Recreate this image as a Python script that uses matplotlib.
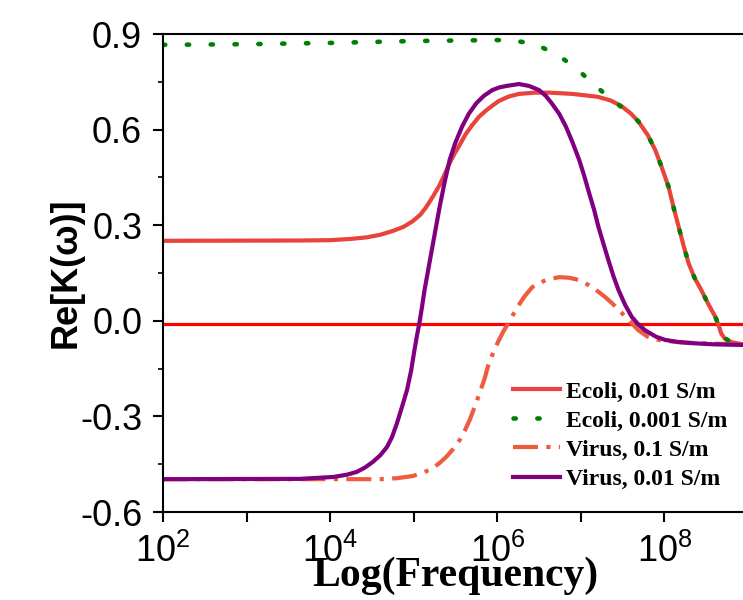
import numpy as np
import matplotlib
matplotlib.use('Agg')
import matplotlib.pyplot as plt

plt.rcParams['font.family'] = ['Liberation Sans', 'DejaVu Sans']
plt.rcParams['mathtext.fontset'] = 'custom'
plt.rcParams['mathtext.rm'] = 'Liberation Sans'

# log10(frequency) / Re[K]
ecoli1_logf = [2.0, 3.64, 4.0, 4.25, 4.44, 4.6, 4.75, 4.88, 4.99, 5.08, 5.15, 5.23, 5.31, 5.37,
               5.43, 5.49, 5.55, 5.62, 5.70, 5.78, 5.87, 5.95, 6.02, 6.14, 6.26, 6.45, 6.62,
               6.9, 7.2, 7.35, 7.48, 7.6, 7.69, 7.8, 7.89, 7.97, 8.05, 8.11, 8.17, 8.23, 8.29,
               8.36, 8.44, 8.52, 8.61, 8.65, 8.68, 8.72, 8.8, 8.92, 9.0]
ecoli1_re = [0.251, 0.252, 0.253, 0.257, 0.262, 0.27, 0.282, 0.295, 0.313, 0.333, 0.357, 0.39,
             0.426, 0.46, 0.495, 0.525, 0.552, 0.585, 0.614, 0.64, 0.661, 0.677, 0.69, 0.704,
             0.712, 0.716, 0.716, 0.712, 0.703, 0.692, 0.675, 0.65, 0.625, 0.583, 0.536, 0.48,
             0.42, 0.355, 0.295, 0.235, 0.18, 0.135, 0.097, 0.055, 0.012, -0.015, -0.04, -0.055,
             -0.067, -0.073, -0.075]

ecoli2_logf = [2.0, 3.0, 4.0, 5.0, 6.0, 6.2, 6.4, 6.52, 6.66, 6.81, 6.95, 7.1, 7.23, 7.37, 7.48,
               7.6, 7.69, 7.8, 7.89, 7.97, 8.05, 8.11, 8.17, 8.23, 8.29, 8.36, 8.44, 8.52, 8.61,
               8.65, 8.68, 8.72, 8.8, 8.92, 9.0]
ecoli2_re = [0.866, 0.868, 0.872, 0.878, 0.881, 0.879, 0.871, 0.86, 0.842, 0.818, 0.79, 0.756,
             0.725, 0.693, 0.672, 0.65, 0.625, 0.583, 0.536, 0.48, 0.42, 0.355, 0.295, 0.235,
             0.18, 0.135, 0.097, 0.055, 0.012, -0.015, -0.04, -0.055, -0.067, -0.073, -0.075]

virus1_logf = [2.0, 4.6, 4.8, 4.99, 5.12, 5.23, 5.31, 5.39, 5.47, 5.55, 5.61, 5.67, 5.73, 5.79,
               5.85, 5.9, 5.96, 6.02, 6.08, 6.14, 6.24, 6.33, 6.42, 6.58, 6.74, 6.86, 6.98,
               7.08, 7.18, 7.28, 7.37, 7.47, 7.57, 7.69, 7.8, 7.93, 8.2, 8.4, 9.0]
virus1_re = [-0.497, -0.497, -0.494, -0.487, -0.476, -0.462, -0.446, -0.427, -0.403, -0.374,
             -0.345, -0.311, -0.27, -0.226, -0.18, -0.132, -0.095, -0.06, -0.03, -0.004, 0.043,
             0.078, 0.106, 0.128, 0.137, 0.135, 0.128, 0.114, 0.097, 0.077, 0.056, 0.03, 0.003,
             -0.03, -0.05, -0.06, -0.068, -0.07, -0.075]

virus2_logf = [2.0, 3.64, 4.04, 4.2, 4.32, 4.42, 4.51, 4.6, 4.68, 4.74, 4.8, 4.86, 4.92, 4.97,
               5.01, 5.04, 5.07, 5.1, 5.13, 5.17, 5.21, 5.26, 5.31, 5.37, 5.43, 5.5, 5.58, 5.66,
               5.75, 5.84, 5.94, 6.02, 6.11, 6.26, 6.38, 6.5, 6.58, 6.65, 6.74, 6.82, 6.9, 6.98,
               7.04, 7.1, 7.16, 7.21, 7.27, 7.33, 7.39, 7.45, 7.53, 7.61, 7.69, 7.77, 7.9, 8.01,
               8.15, 8.32, 8.6, 9.0]
virus2_re = [-0.497, -0.496, -0.49, -0.483, -0.474, -0.46, -0.443, -0.422, -0.396, -0.365,
             -0.321, -0.27, -0.217, -0.155, -0.09, -0.045, -0.004, 0.045, 0.097, 0.155, 0.213,
             0.285, 0.357, 0.435, 0.505, 0.56, 0.61, 0.65, 0.683, 0.706, 0.724, 0.732, 0.737,
             0.743, 0.737, 0.724, 0.706, 0.683, 0.65, 0.61, 0.56, 0.505, 0.455, 0.40, 0.347,
             0.295, 0.242, 0.19, 0.14, 0.097, 0.05, 0.012, -0.012, -0.03, -0.05, -0.06, -0.066,
             -0.07, -0.074, -0.076]

zero_level = -0.01

x_tick_exp = [2, 3, 4, 5, 6, 7, 8, 9]
x_tick_labels = ['$\\mathregular{10^{2}}$', '', '$\\mathregular{10^{4}}$', '',
                 '$\\mathregular{10^{6}}$', '', '$\\mathregular{10^{8}}$', '']
y_ticks = [-0.6, -0.3, 0.0, 0.3, 0.6, 0.9]

fig = plt.figure(figsize=(7.43, 6.0), dpi=100)
ax = fig.add_axes([163 / 743, 88 / 600, 585 / 743, 478 / 600])

ax.axhline(zero_level, color='#ff0000', lw=2.3, zorder=1)
ax.plot(10 ** np.array(ecoli1_logf), ecoli1_re, color='#e8433c', lw=3,
        solid_joinstyle='round', label='Ecoli, 0.01 S/m')
ax.plot(10 ** np.array(ecoli2_logf), ecoli2_re, color='#008000', lw=3.3,
        ls=(0, (0.5, 4.7)), dash_capstyle='round', label='Ecoli, 0.001 S/m')
ax.plot(10 ** np.array(virus1_logf), virus1_re, color='#ee5b3e', lw=3,
        ls=(0, (6, 2, 1, 2)), label='Virus, 0.1 S/m')
ax.plot(10 ** np.array(virus2_logf), virus2_re, color='#800080', lw=3,
        solid_joinstyle='round', label='Virus, 0.01 S/m')

ax.set_xscale('log')
ax.set_xlim(1e2, 1e9)
ax.set_ylim(-0.6, 0.9)
ax.set_xticks([10.0 ** e for e in x_tick_exp])
ax.set_xticklabels(x_tick_labels)
ax.xaxis.set_minor_locator(matplotlib.ticker.LogLocator(base=10, subs=np.arange(2, 10)))
ax.xaxis.set_minor_formatter(matplotlib.ticker.NullFormatter())
ax.set_yticks(y_ticks)
ax.set_yticklabels(['%.1f' % v for v in y_ticks])
ax.yaxis.set_minor_locator(matplotlib.ticker.MultipleLocator(0.15))

ax.tick_params(which='major', direction='out', length=7, width=1.5, labelsize=26, pad=8)
ax.tick_params(which='minor', direction='out', length=3.5, width=1.2)
ax.tick_params(axis='x', pad=9)
for s in ax.spines.values():
    s.set_linewidth(1.5)

ax.set_ylabel('Re[K(ω)]', fontsize=26, fontweight='bold', labelpad=-3)
ax.set_xlabel('Log(Frequency)', fontsize=30, fontweight='bold',
              family='Liberation Serif', labelpad=-10)

ax.legend(loc='upper left', bbox_to_anchor=(513 / 743, 1 - 381 / 600), bbox_transform=fig.transFigure,
          frameon=False, prop={'family': 'Liberation Serif', 'weight': 'bold', 'size': 17},
          handlelength=2.0, handletextpad=0.25, labelspacing=0.32, borderaxespad=0, borderpad=0)

fig.savefig('out.png', dpi=100)
